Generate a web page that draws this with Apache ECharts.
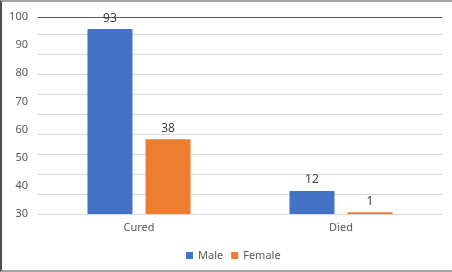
<!DOCTYPE html>
<html>
<head>
<meta charset="utf-8">
<script src="https://cdn.jsdelivr.net/npm/echarts@6/dist/echarts.min.js"></script>
<style>
  html, body { margin: 0; padding: 0; background: #fff; }
  #chart {
    width: 452px; height: 272px; box-sizing: border-box;
    border-top: 2px solid #a6a6a6; border-left: 2px solid #505050;
    border-bottom: 2px solid #a6a6a6;
  }
</style>
</head>
<body>
<div id="chart"></div>
<script>
  // categories and values (bar heights, labels as printed)
  const categories = ['Cured', 'Died']
  const maleValues = [95.7, 38.2]
  const femaleValues = [56.6, 30.6]
  const maleLabels = [93, 12]
  const femaleLabels = [38, 1]
  const yMin = 30
  const yMax = 100
  const yStep = 10

  const font = 'Noto Sans'
  const chart = echarts.init(document.getElementById('chart'))

  chart.setOption({
    animation: false,
    color: ['#4472c4', '#ed7d31'],
    grid: { left: 36, right: 10, top: 15, bottom: 56 },
    legend: {
      bottom: 4,
      left: 179,
      icon: 'rect',
      itemWidth: 7,
      itemHeight: 7,
      itemGap: 8,
      textStyle: { color: '#595959', fontSize: 11, fontFamily: font },
      data: ['Male', 'Female']
    },
    xAxis: [
      {
        type: 'category',
        data: categories,
        axisLine: { lineStyle: { color: '#d9d9d9' } },
        axisTick: { show: false },
        axisLabel: { color: '#595959', fontSize: 11, fontFamily: font, margin: 8 }
      },
      {
        // dark top rule
        type: 'category',
        position: 'top',
        data: categories,
        axisLine: { show: true, lineStyle: { color: '#5a5a5a', width: 1 } },
        axisTick: { show: false },
        axisLabel: { show: false }
      }
    ],
    yAxis: [
      {
        type: 'value',
        min: yMin,
        max: yMax,
        interval: yStep,
        splitLine: { show: false },
        axisLine: { show: false },
        axisTick: { show: false },
        axisLabel: { color: '#595959', fontSize: 11, fontFamily: font, margin: 10 }
      },
      {
        // gridlines, every 20px
        type: 'value',
        min: 0,
        max: 9.85,
        interval: 1,
        axisLine: { show: false },
        axisTick: { show: false },
        axisLabel: { show: false },
        splitLine: { lineStyle: { color: '#d9d9d9' } }
      }
    ],
    series: [
      {
        name: 'Male',
        type: 'bar',
        data: maleValues,
        barWidth: 45,
        barGap: '29%',
        label: {
          show: true, position: 'top', distance: 5,
          color: '#404040', fontSize: 12, fontFamily: font,
          formatter: p => maleLabels[p.dataIndex]
        }
      },
      {
        name: 'Female',
        type: 'bar',
        data: femaleValues,
        barWidth: 45,
        barGap: '29%',
        label: {
          show: true, position: 'top', distance: 5,
          color: '#404040', fontSize: 12, fontFamily: font,
          formatter: p => femaleLabels[p.dataIndex]
        }
      }
    ]
  })
</script>
</body>
</html>
